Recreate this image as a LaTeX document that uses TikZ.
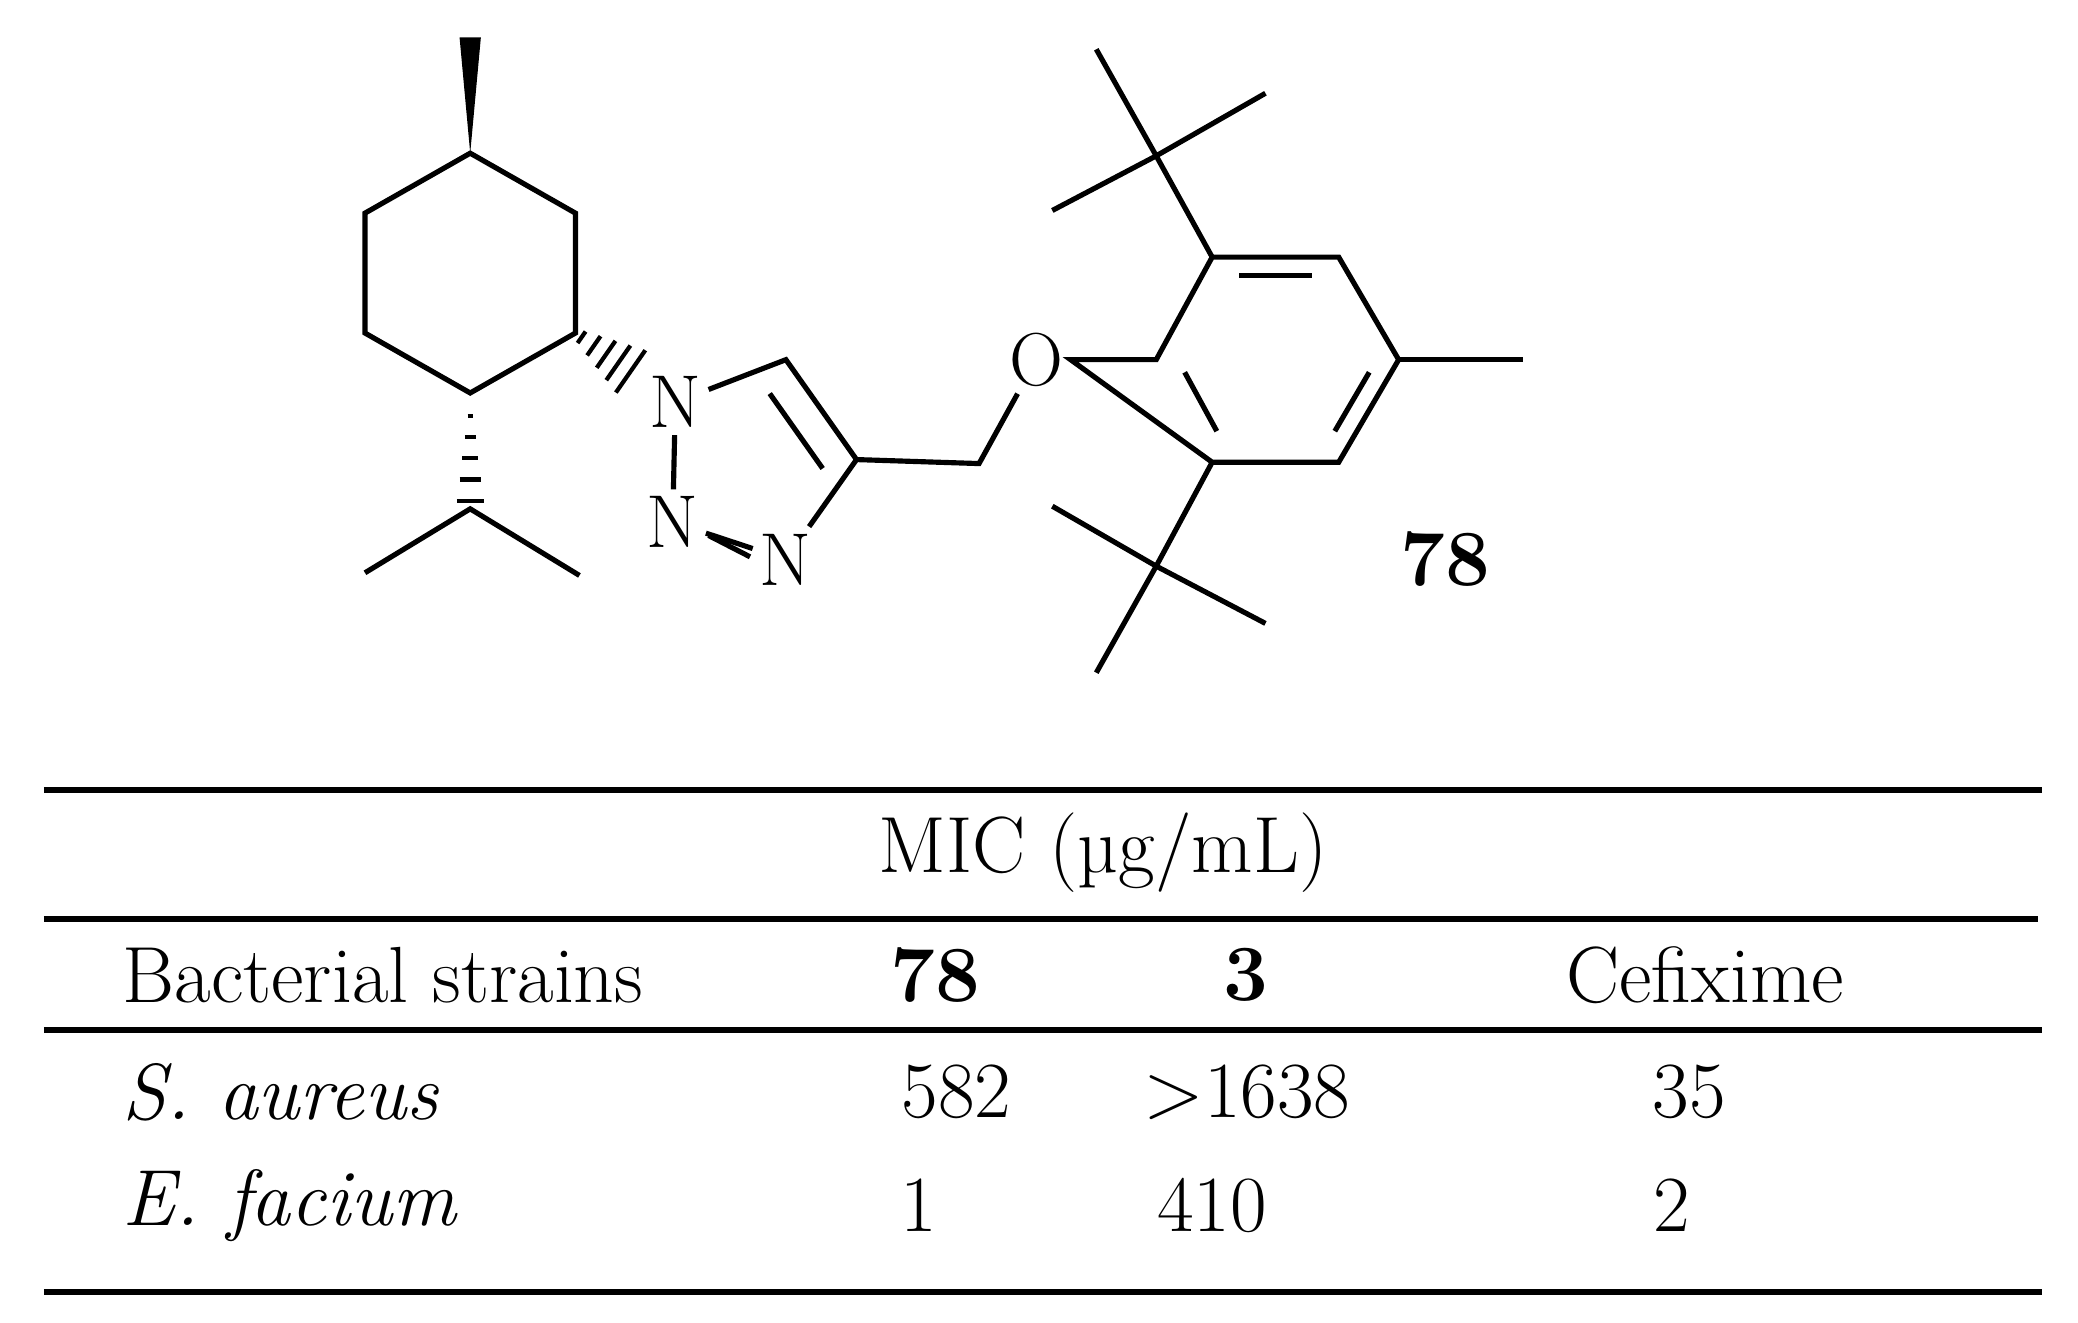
\documentclass[tikz,border=0pt]{standalone}
\usetikzlibrary{calc}
\begin{document}
\begin{tikzpicture}[x=0.01cm,y=-0.01cm,line width=1.1pt,
  atom/.style={inner sep=1pt,font=\fontsize{16}{18}\selectfont},
  tx/.style={font=\fontsize{17}{20}\selectfont,inner sep=0pt},
  rule/.style={line width=1.3pt}]
\useasboundingbox (0,0) rectangle (1560,993);
% cyclohexane
\coordinate (c1) at (353,115); \coordinate (c2) at (432,160); \coordinate (c3) at (432,250);
\coordinate (c4) at (353,295); \coordinate (c5) at (274,250); \coordinate (c6) at (274,160);
\draw (c1)--(c2)--(c3)--(c4)--(c5)--(c6)--cycle;
\coordinate (me) at (353,28);
\fill (c1) -- ($(me)+(-8,0)$) -- ($(me)+(8,0)$) -- cycle;
\coordinate (ip) at (353,382); \coordinate (ipa) at (274,430); \coordinate (ipb) at (435,432);
\draw (ipa)--(ip)--(ipb);
\foreach \t/\w in {312/2,328/4,344/6,360/8,376/10} \draw[line width=0.9pt] (353-\w,\t)--(353+\w,\t);
% triazole
\node[atom] (n1) at (507,302) {N};
\node[atom] (n2) at (505,392) {N};
\node[atom] (n3) at (590,420) {N};
\coordinate (c5t) at (590,270); \coordinate (c4t) at (643,345);
\coordinate (n1h) at (478,282);
\foreach \t/\w in {0.1/1.5,0.3/2.5,0.5/3.5,0.7/4.5,0.9/5.5}
  \draw[line width=0.9pt] ($(c3)!\t!(n1h)!\w pt!90:(n1h)$) -- ($(c3)!\t!(n1h)!\w pt!-90:(n1h)$);
\draw (n1)--(c5t)--(c4t)--(n3);
\draw ($(c5t)!0.15!(c4t)!7pt!-90:(c4t)$) -- ($(c5t)!0.9!(c4t)!7pt!-90:(c4t)$);
\draw (n1)--(n2);
\draw (n2.east)++(0,-4)coordinate(q1); \draw (n2.east)++(0,8)coordinate(q2);
\draw (n2)--(n3);
\draw ($(n2.east)+(2,10)$)--($(n3.west)+(-2,-2)$);
% CH2-O-aryl
\coordinate (ch2) at (735,348);
\node[atom] (o) at (778,270) {O};
\draw (c4t)--(ch2)--(o);
\coordinate (a1) at (868,270); \coordinate (a2) at (910,193); \coordinate (a3) at (1005,193);
\coordinate (a4) at (1050,270); \coordinate (a5) at (1005,347); \coordinate (a6) at (910,347);
\coordinate (ac) at (958,270);
\draw (o)--(a1)--(a2)--(a3)--(a4)--(a5)--(a6)--cycle;
\draw ($(a2)!0.15!(a3)!0.18!(ac)$)--($(a2)!0.85!(a3)!0.18!(ac)$);
\draw ($(a4)!0.15!(a5)!0.18!(ac)$)--($(a4)!0.85!(a5)!0.18!(ac)$);
\draw ($(a6)!0.15!(a1)!0.18!(ac)$)--($(a6)!0.85!(a1)!0.18!(ac)$);
\coordinate (am) at (1143,270); \draw (a4)--(am);
\coordinate (t1) at (868,117); \coordinate (t1a) at (823,37); \coordinate (t1b) at (790,158); \coordinate (t1c) at (950,70);
\draw (a2)--(t1) (t1a)--(t1) (t1b)--(t1) (t1c)--(t1);
\coordinate (t2) at (868,425); \coordinate (t2a) at (790,380); \coordinate (t2b) at (950,468); \coordinate (t2c) at (823,505);
\draw (a6)--(t2) (t2a)--(t2) (t2b)--(t2) (t2c)--(t2);
\node[tx,font=\fontsize{17}{20}\selectfont\bfseries] (lbl) at (1085,420) {78};
% table
\coordinate (l1a) at (33,593); \coordinate (l1b) at (1533,593);
\coordinate (l2a) at (33,690); \coordinate (l2b) at (1530,690);
\coordinate (l3a) at (33,773); \coordinate (l3b) at (1533,773);
\coordinate (l4a) at (33,970); \coordinate (l4b) at (1533,970);
\draw[rule] (l1a)--(l1b) (l2a)--(l2b) (l3a)--(l3b) (l4a)--(l4b);
\node[tx] (mic) at (828,640) {MIC (µg/mL)};
\node[tx,anchor=west] (bs) at (90,732) {Bacterial strains};
\node[tx,font=\fontsize{17}{20}\selectfont\bfseries] (h78) at (702,732) {78};
\node[tx,font=\fontsize{17}{20}\selectfont\bfseries] (h3) at (935,732) {3};
\node[tx] (hc) at (1280,732) {Cefixime};
\node[tx,anchor=west] (sa) at (90,820) {\itshape S. aureus};
\node[tx] (sa1) at (718,820) {582};
\node[tx] (sa2) at (936,820) {>1638};
\node[tx] (sa3) at (1268,820) {35};
\node[tx,anchor=west] (ef) at (90,905) {\itshape E. facium};
\node[tx] (ef1) at (690,905) {1};
\node[tx] (ef2) at (910,905) {410};
\node[tx] (ef3) at (1255,905) {2};
\end{tikzpicture}
\end{document}
